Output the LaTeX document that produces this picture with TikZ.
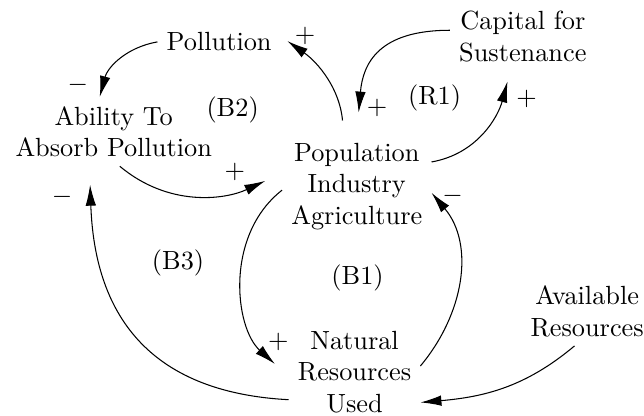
\documentclass[tikz,border=0pt]{standalone}
\usetikzlibrary{arrows.meta}
\begin{document}
\begin{tikzpicture}[
		var/.style={align=center},
		link/.style={-{Latex[length=8pt,width=4pt]}},
	]
		\useasboundingbox (0,0) rectangle (8.61,-5.55);
		\node[var] (pollution) at (2.93,-0.56) {Pollution};
		\node[var] (capital) at (6.99,-0.49) {Capital for\\Sustenance};
		\node[var] (ability) at (1.52,-1.76) {Ability To\\Absorb Pollution};
		\node[var] (population) at (4.77,-2.49) {Population\\Industry\\Agriculture};
		\node[var] (natural) at (4.74,-4.97) {Natural\\Resources\\Used};
		\node[var] (available) at (7.85,-4.16) {Available\\Resources};
		\node (b2) at (3.11,-1.47) {(B2)};
		\node (r1) at (5.81,-1.31) {(R1)};
		\node (b3) at (2.38,-3.52) {(B3)};
		\node (b1) at (4.78,-3.72) {(B1)};
		\draw[link] (pollution.west) to[out=190,in=75] (ability.112);
		\draw[link,shorten >=7pt] (ability.-80) to[out=-40,in=205] (population.170);
		\draw[link,shorten <=5pt,shorten >=3pt] (population.104) to[out=95,in=-35] (pollution.5);
		\draw[link,shorten >=8pt] (capital.175) to[out=180,in=85,looseness=1.3] (population.north);
		\draw[link,shorten >=4pt] (population.18) to[out=10,in=-105] (capital.250);
		\draw[link,shorten >=7pt] (population.183) to[out=218,in=138] (natural.184);
		\draw[link] (natural.5) to[out=50,in=-50] (population.-5);
		\draw[link,shorten >=7pt] (natural.203) to[out=177,in=-88,looseness=1.2] (ability.235);
		\draw[link] (available.250) to[out=220,in=5] (natural.-25);
		\node (sgn1) at (1.04,-1.14) {$-$};
		\node (sgn2) at (3.14,-2.30) {$+$};
		\node (sgn3) at (4.08,-0.48) {$+$};
		\node (sgn4) at (5.04,-1.44) {$+$};
		\node (sgn5) at (7.04,-1.32) {$+$};
		\node (sgn6) at (3.72,-4.57) {$+$};
		\node (sgn7) at (6.05,-2.62) {$-$};
		\node (sgn8) at (0.83,-2.63) {$-$};
	\end{tikzpicture}
\end{document}
